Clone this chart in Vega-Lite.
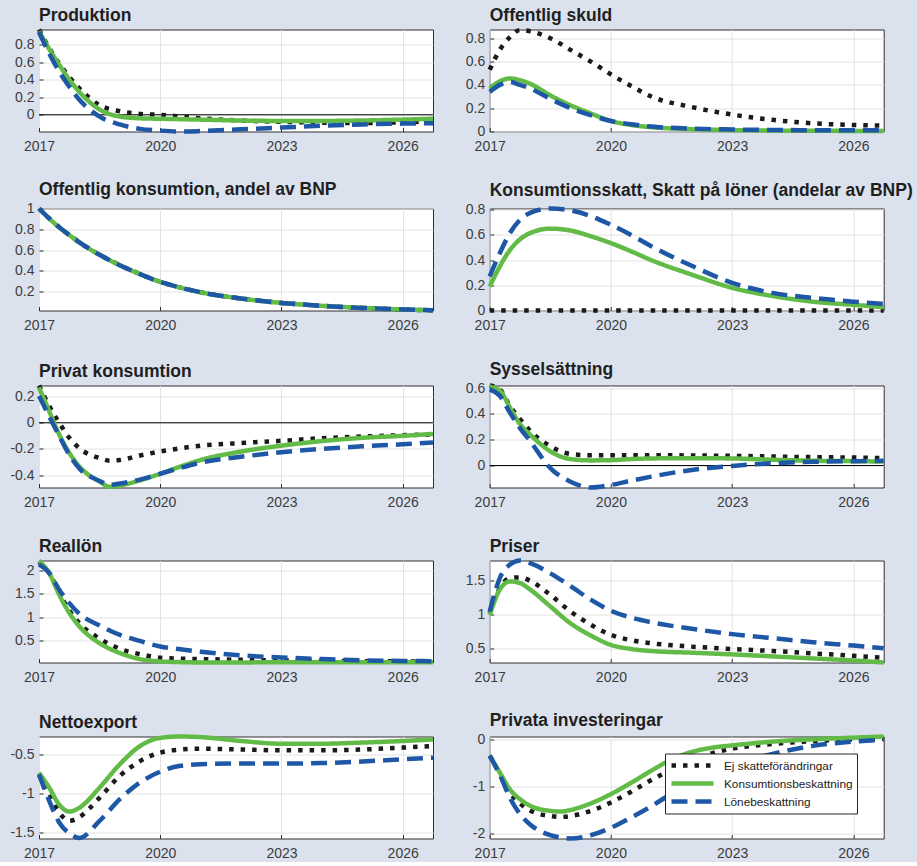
{
"$schema":"https://vega.github.io/schema/vega-lite/v6.json",
"background":"#dbe2ee",
"padding":{"left":4,"top":5.5,"right":6,"bottom":0},
"data":{"values":[
{"p":"A","s":"E","t":2017,"v":0.97},{"p":"A","s":"E","t":2017.25,"v":0.76},{"p":"A","s":"E","t":2017.5,"v":0.58},{"p":"A","s":"E","t":2017.75,"v":0.43},{"p":"A","s":"E","t":2018,"v":0.30},{"p":"A","s":"E","t":2018.5,"v":0.11},{"p":"A","s":"E","t":2019,"v":0.04},{"p":"A","s":"E","t":2019.5,"v":0.01},{"p":"A","s":"E","t":2020,"v":0.0},{"p":"A","s":"E","t":2020.5,"v":-0.02},{"p":"A","s":"E","t":2021,"v":-0.04},{"p":"A","s":"E","t":2022,"v":-0.065},{"p":"A","s":"E","t":2023,"v":-0.08},{"p":"A","s":"E","t":2024,"v":-0.09},{"p":"A","s":"E","t":2025,"v":-0.095},{"p":"A","s":"E","t":2026,"v":-0.085},{"p":"A","s":"E","t":2026.75,"v":-0.075},
{"p":"A","s":"K","t":2017,"v":0.95},{"p":"A","s":"K","t":2017.25,"v":0.75},{"p":"A","s":"K","t":2017.5,"v":0.57},{"p":"A","s":"K","t":2017.75,"v":0.40},{"p":"A","s":"K","t":2018,"v":0.26},{"p":"A","s":"K","t":2018.5,"v":0.06},{"p":"A","s":"K","t":2019,"v":-0.02},{"p":"A","s":"K","t":2019.5,"v":-0.04},{"p":"A","s":"K","t":2020,"v":-0.045},{"p":"A","s":"K","t":2020.5,"v":-0.05},{"p":"A","s":"K","t":2021,"v":-0.055},{"p":"A","s":"K","t":2022,"v":-0.065},{"p":"A","s":"K","t":2023,"v":-0.07},{"p":"A","s":"K","t":2024,"v":-0.07},{"p":"A","s":"K","t":2025,"v":-0.065},{"p":"A","s":"K","t":2026,"v":-0.055},{"p":"A","s":"K","t":2026.75,"v":-0.045},
{"p":"A","s":"L","t":2017,"v":0.94},{"p":"A","s":"L","t":2017.25,"v":0.70},{"p":"A","s":"L","t":2017.5,"v":0.49},{"p":"A","s":"L","t":2017.75,"v":0.32},{"p":"A","s":"L","t":2018,"v":0.17},{"p":"A","s":"L","t":2018.5,"v":-0.02},{"p":"A","s":"L","t":2019,"v":-0.11},{"p":"A","s":"L","t":2019.5,"v":-0.16},{"p":"A","s":"L","t":2020,"v":-0.18},{"p":"A","s":"L","t":2020.5,"v":-0.19},{"p":"A","s":"L","t":2021,"v":-0.185},{"p":"A","s":"L","t":2022,"v":-0.165},{"p":"A","s":"L","t":2023,"v":-0.145},{"p":"A","s":"L","t":2024,"v":-0.125},{"p":"A","s":"L","t":2025,"v":-0.11},{"p":"A","s":"L","t":2026,"v":-0.10},{"p":"A","s":"L","t":2026.75,"v":-0.095},
{"p":"B","s":"E","t":2017,"v":0.53},{"p":"B","s":"E","t":2017.25,"v":0.70},{"p":"B","s":"E","t":2017.5,"v":0.81},{"p":"B","s":"E","t":2017.75,"v":0.87},{"p":"B","s":"E","t":2018,"v":0.86},{"p":"B","s":"E","t":2018.5,"v":0.80},{"p":"B","s":"E","t":2019,"v":0.70},{"p":"B","s":"E","t":2019.5,"v":0.60},{"p":"B","s":"E","t":2020,"v":0.49},{"p":"B","s":"E","t":2020.5,"v":0.39},{"p":"B","s":"E","t":2021,"v":0.30},{"p":"B","s":"E","t":2022,"v":0.21},{"p":"B","s":"E","t":2023,"v":0.145},{"p":"B","s":"E","t":2024,"v":0.10},{"p":"B","s":"E","t":2025,"v":0.07},{"p":"B","s":"E","t":2026,"v":0.056},{"p":"B","s":"E","t":2026.75,"v":0.05},
{"p":"B","s":"K","t":2017,"v":0.37},{"p":"B","s":"K","t":2017.25,"v":0.43},{"p":"B","s":"K","t":2017.5,"v":0.455},{"p":"B","s":"K","t":2017.75,"v":0.44},{"p":"B","s":"K","t":2018,"v":0.41},{"p":"B","s":"K","t":2018.5,"v":0.31},{"p":"B","s":"K","t":2019,"v":0.225},{"p":"B","s":"K","t":2019.5,"v":0.155},{"p":"B","s":"K","t":2020,"v":0.09},{"p":"B","s":"K","t":2020.5,"v":0.056},{"p":"B","s":"K","t":2021,"v":0.037},{"p":"B","s":"K","t":2022,"v":0.02},{"p":"B","s":"K","t":2023,"v":0.012},{"p":"B","s":"K","t":2024,"v":0.008},{"p":"B","s":"K","t":2025,"v":0.006},{"p":"B","s":"K","t":2026,"v":0.005},{"p":"B","s":"K","t":2026.75,"v":0.004},
{"p":"B","s":"L","t":2017,"v":0.34},{"p":"B","s":"L","t":2017.25,"v":0.40},{"p":"B","s":"L","t":2017.5,"v":0.425},{"p":"B","s":"L","t":2017.75,"v":0.40},{"p":"B","s":"L","t":2018,"v":0.37},{"p":"B","s":"L","t":2018.5,"v":0.28},{"p":"B","s":"L","t":2019,"v":0.20},{"p":"B","s":"L","t":2019.5,"v":0.14},{"p":"B","s":"L","t":2020,"v":0.09},{"p":"B","s":"L","t":2020.5,"v":0.062},{"p":"B","s":"L","t":2021,"v":0.042},{"p":"B","s":"L","t":2022,"v":0.025},{"p":"B","s":"L","t":2023,"v":0.017},{"p":"B","s":"L","t":2024,"v":0.013},{"p":"B","s":"L","t":2025,"v":0.011},{"p":"B","s":"L","t":2026,"v":0.01},{"p":"B","s":"L","t":2026.75,"v":0.01},
{"p":"C","s":"E","t":2017,"v":1.0},{"p":"C","s":"E","t":2017.25,"v":0.905},{"p":"C","s":"E","t":2017.5,"v":0.82},{"p":"C","s":"E","t":2017.75,"v":0.745},{"p":"C","s":"E","t":2018,"v":0.675},{"p":"C","s":"E","t":2018.5,"v":0.555},{"p":"C","s":"E","t":2019,"v":0.455},{"p":"C","s":"E","t":2019.5,"v":0.37},{"p":"C","s":"E","t":2020,"v":0.295},{"p":"C","s":"E","t":2020.5,"v":0.24},{"p":"C","s":"E","t":2021,"v":0.195},{"p":"C","s":"E","t":2022,"v":0.135},{"p":"C","s":"E","t":2023,"v":0.093},{"p":"C","s":"E","t":2024,"v":0.065},{"p":"C","s":"E","t":2025,"v":0.045},{"p":"C","s":"E","t":2026,"v":0.03},{"p":"C","s":"E","t":2026.75,"v":0.022},
{"p":"C","s":"K","t":2017,"v":1.0},{"p":"C","s":"K","t":2017.25,"v":0.905},{"p":"C","s":"K","t":2017.5,"v":0.82},{"p":"C","s":"K","t":2017.75,"v":0.745},{"p":"C","s":"K","t":2018,"v":0.675},{"p":"C","s":"K","t":2018.5,"v":0.555},{"p":"C","s":"K","t":2019,"v":0.455},{"p":"C","s":"K","t":2019.5,"v":0.37},{"p":"C","s":"K","t":2020,"v":0.295},{"p":"C","s":"K","t":2020.5,"v":0.24},{"p":"C","s":"K","t":2021,"v":0.195},{"p":"C","s":"K","t":2022,"v":0.135},{"p":"C","s":"K","t":2023,"v":0.093},{"p":"C","s":"K","t":2024,"v":0.065},{"p":"C","s":"K","t":2025,"v":0.045},{"p":"C","s":"K","t":2026,"v":0.03},{"p":"C","s":"K","t":2026.75,"v":0.022},
{"p":"C","s":"L","t":2017,"v":1.0},{"p":"C","s":"L","t":2017.25,"v":0.905},{"p":"C","s":"L","t":2017.5,"v":0.82},{"p":"C","s":"L","t":2017.75,"v":0.745},{"p":"C","s":"L","t":2018,"v":0.675},{"p":"C","s":"L","t":2018.5,"v":0.555},{"p":"C","s":"L","t":2019,"v":0.455},{"p":"C","s":"L","t":2019.5,"v":0.37},{"p":"C","s":"L","t":2020,"v":0.295},{"p":"C","s":"L","t":2020.5,"v":0.24},{"p":"C","s":"L","t":2021,"v":0.195},{"p":"C","s":"L","t":2022,"v":0.135},{"p":"C","s":"L","t":2023,"v":0.093},{"p":"C","s":"L","t":2024,"v":0.065},{"p":"C","s":"L","t":2025,"v":0.045},{"p":"C","s":"L","t":2026,"v":0.03},{"p":"C","s":"L","t":2026.75,"v":0.022},
{"p":"D","s":"E","t":2017,"v":0},{"p":"D","s":"E","t":2018,"v":0},{"p":"D","s":"E","t":2019,"v":0},{"p":"D","s":"E","t":2020,"v":0},{"p":"D","s":"E","t":2021,"v":0},{"p":"D","s":"E","t":2022,"v":0},{"p":"D","s":"E","t":2023,"v":0},{"p":"D","s":"E","t":2024,"v":0},{"p":"D","s":"E","t":2025,"v":0},{"p":"D","s":"E","t":2026,"v":0},{"p":"D","s":"E","t":2026.75,"v":0},
{"p":"D","s":"K","t":2017,"v":0.19},{"p":"D","s":"K","t":2017.25,"v":0.35},{"p":"D","s":"K","t":2017.5,"v":0.48},{"p":"D","s":"K","t":2017.75,"v":0.565},{"p":"D","s":"K","t":2018,"v":0.615},{"p":"D","s":"K","t":2018.5,"v":0.65},{"p":"D","s":"K","t":2019,"v":0.635},{"p":"D","s":"K","t":2019.5,"v":0.59},{"p":"D","s":"K","t":2020,"v":0.535},{"p":"D","s":"K","t":2020.5,"v":0.47},{"p":"D","s":"K","t":2021,"v":0.40},{"p":"D","s":"K","t":2022,"v":0.285},{"p":"D","s":"K","t":2023,"v":0.18},{"p":"D","s":"K","t":2024,"v":0.115},{"p":"D","s":"K","t":2025,"v":0.07},{"p":"D","s":"K","t":2026,"v":0.045},{"p":"D","s":"K","t":2026.75,"v":0.027},
{"p":"D","s":"L","t":2017,"v":0.27},{"p":"D","s":"L","t":2017.25,"v":0.455},{"p":"D","s":"L","t":2017.5,"v":0.615},{"p":"D","s":"L","t":2017.75,"v":0.72},{"p":"D","s":"L","t":2018,"v":0.775},{"p":"D","s":"L","t":2018.5,"v":0.81},{"p":"D","s":"L","t":2019,"v":0.795},{"p":"D","s":"L","t":2019.5,"v":0.75},{"p":"D","s":"L","t":2020,"v":0.68},{"p":"D","s":"L","t":2020.5,"v":0.60},{"p":"D","s":"L","t":2021,"v":0.51},{"p":"D","s":"L","t":2022,"v":0.355},{"p":"D","s":"L","t":2023,"v":0.22},{"p":"D","s":"L","t":2024,"v":0.14},{"p":"D","s":"L","t":2025,"v":0.10},{"p":"D","s":"L","t":2026,"v":0.07},{"p":"D","s":"L","t":2026.75,"v":0.053},
{"p":"E","s":"E","t":2017,"v":0.285},{"p":"E","s":"E","t":2017.25,"v":0.13},{"p":"E","s":"E","t":2017.5,"v":0.0},{"p":"E","s":"E","t":2017.75,"v":-0.115},{"p":"E","s":"E","t":2018,"v":-0.195},{"p":"E","s":"E","t":2018.5,"v":-0.27},{"p":"E","s":"E","t":2018.75,"v":-0.29},{"p":"E","s":"E","t":2019,"v":-0.285},{"p":"E","s":"E","t":2019.5,"v":-0.25},{"p":"E","s":"E","t":2020,"v":-0.22},{"p":"E","s":"E","t":2020.5,"v":-0.195},{"p":"E","s":"E","t":2021,"v":-0.175},{"p":"E","s":"E","t":2022,"v":-0.155},{"p":"E","s":"E","t":2023,"v":-0.138},{"p":"E","s":"E","t":2024,"v":-0.118},{"p":"E","s":"E","t":2025,"v":-0.105},{"p":"E","s":"E","t":2026,"v":-0.095},{"p":"E","s":"E","t":2026.75,"v":-0.09},
{"p":"E","s":"K","t":2017,"v":0.27},{"p":"E","s":"K","t":2017.25,"v":0.09},{"p":"E","s":"K","t":2017.5,"v":-0.09},{"p":"E","s":"K","t":2017.75,"v":-0.23},{"p":"E","s":"K","t":2018,"v":-0.335},{"p":"E","s":"K","t":2018.5,"v":-0.45},{"p":"E","s":"K","t":2018.75,"v":-0.49},{"p":"E","s":"K","t":2019,"v":-0.48},{"p":"E","s":"K","t":2019.5,"v":-0.44},{"p":"E","s":"K","t":2020,"v":-0.39},{"p":"E","s":"K","t":2020.5,"v":-0.335},{"p":"E","s":"K","t":2021,"v":-0.285},{"p":"E","s":"K","t":2022,"v":-0.22},{"p":"E","s":"K","t":2023,"v":-0.175},{"p":"E","s":"K","t":2024,"v":-0.14},{"p":"E","s":"K","t":2025,"v":-0.115},{"p":"E","s":"K","t":2026,"v":-0.10},{"p":"E","s":"K","t":2026.75,"v":-0.085},
{"p":"E","s":"L","t":2017,"v":0.205},{"p":"E","s":"L","t":2017.25,"v":0.05},{"p":"E","s":"L","t":2017.5,"v":-0.10},{"p":"E","s":"L","t":2017.75,"v":-0.245},{"p":"E","s":"L","t":2018,"v":-0.35},{"p":"E","s":"L","t":2018.5,"v":-0.445},{"p":"E","s":"L","t":2018.75,"v":-0.475},{"p":"E","s":"L","t":2019,"v":-0.465},{"p":"E","s":"L","t":2019.5,"v":-0.435},{"p":"E","s":"L","t":2020,"v":-0.39},{"p":"E","s":"L","t":2020.5,"v":-0.345},{"p":"E","s":"L","t":2021,"v":-0.305},{"p":"E","s":"L","t":2022,"v":-0.26},{"p":"E","s":"L","t":2023,"v":-0.225},{"p":"E","s":"L","t":2024,"v":-0.20},{"p":"E","s":"L","t":2025,"v":-0.18},{"p":"E","s":"L","t":2026,"v":-0.165},{"p":"E","s":"L","t":2026.75,"v":-0.15},
{"p":"F","s":"E","t":2017,"v":0.62},{"p":"F","s":"E","t":2017.25,"v":0.59},{"p":"F","s":"E","t":2017.5,"v":0.46},{"p":"F","s":"E","t":2017.75,"v":0.36},{"p":"F","s":"E","t":2018,"v":0.27},{"p":"F","s":"E","t":2018.5,"v":0.15},{"p":"F","s":"E","t":2019,"v":0.09},{"p":"F","s":"E","t":2019.5,"v":0.08},{"p":"F","s":"E","t":2020,"v":0.08},{"p":"F","s":"E","t":2020.5,"v":0.08},{"p":"F","s":"E","t":2021,"v":0.08},{"p":"F","s":"E","t":2022,"v":0.078},{"p":"F","s":"E","t":2023,"v":0.075},{"p":"F","s":"E","t":2024,"v":0.07},{"p":"F","s":"E","t":2025,"v":0.065},{"p":"F","s":"E","t":2026,"v":0.062},{"p":"F","s":"E","t":2026.75,"v":0.057},
{"p":"F","s":"K","t":2017,"v":0.61},{"p":"F","s":"K","t":2017.25,"v":0.58},{"p":"F","s":"K","t":2017.5,"v":0.45},{"p":"F","s":"K","t":2017.75,"v":0.32},{"p":"F","s":"K","t":2018,"v":0.24},{"p":"F","s":"K","t":2018.5,"v":0.11},{"p":"F","s":"K","t":2019,"v":0.05},{"p":"F","s":"K","t":2019.5,"v":0.04},{"p":"F","s":"K","t":2020,"v":0.042},{"p":"F","s":"K","t":2020.5,"v":0.05},{"p":"F","s":"K","t":2021,"v":0.055},{"p":"F","s":"K","t":2022,"v":0.057},{"p":"F","s":"K","t":2023,"v":0.055},{"p":"F","s":"K","t":2024,"v":0.045},{"p":"F","s":"K","t":2025,"v":0.037},{"p":"F","s":"K","t":2026,"v":0.034},{"p":"F","s":"K","t":2026.75,"v":0.031},
{"p":"F","s":"L","t":2017,"v":0.59},{"p":"F","s":"L","t":2017.25,"v":0.54},{"p":"F","s":"L","t":2017.5,"v":0.41},{"p":"F","s":"L","t":2017.75,"v":0.29},{"p":"F","s":"L","t":2018,"v":0.19},{"p":"F","s":"L","t":2018.5,"v":-0.02},{"p":"F","s":"L","t":2019,"v":-0.125},{"p":"F","s":"L","t":2019.5,"v":-0.17},{"p":"F","s":"L","t":2020,"v":-0.15},{"p":"F","s":"L","t":2020.5,"v":-0.117},{"p":"F","s":"L","t":2021,"v":-0.086},{"p":"F","s":"L","t":2022,"v":-0.034},{"p":"F","s":"L","t":2023,"v":-0.003},{"p":"F","s":"L","t":2024,"v":0.018},{"p":"F","s":"L","t":2025,"v":0.029},{"p":"F","s":"L","t":2026,"v":0.034},{"p":"F","s":"L","t":2026.75,"v":0.037},
{"p":"G","s":"E","t":2017,"v":2.18},{"p":"G","s":"E","t":2017.25,"v":1.95},{"p":"G","s":"E","t":2017.5,"v":1.52},{"p":"G","s":"E","t":2017.75,"v":1.14},{"p":"G","s":"E","t":2018,"v":0.87},{"p":"G","s":"E","t":2018.5,"v":0.54},{"p":"G","s":"E","t":2019,"v":0.32},{"p":"G","s":"E","t":2019.5,"v":0.205},{"p":"G","s":"E","t":2020,"v":0.13},{"p":"G","s":"E","t":2020.5,"v":0.11},{"p":"G","s":"E","t":2021,"v":0.10},{"p":"G","s":"E","t":2022,"v":0.085},{"p":"G","s":"E","t":2023,"v":0.07},{"p":"G","s":"E","t":2024,"v":0.06},{"p":"G","s":"E","t":2025,"v":0.055},{"p":"G","s":"E","t":2026,"v":0.05},{"p":"G","s":"E","t":2026.75,"v":0.045},
{"p":"G","s":"K","t":2017,"v":2.21},{"p":"G","s":"K","t":2017.25,"v":1.95},{"p":"G","s":"K","t":2017.5,"v":1.48},{"p":"G","s":"K","t":2017.75,"v":1.09},{"p":"G","s":"K","t":2018,"v":0.80},{"p":"G","s":"K","t":2018.5,"v":0.44},{"p":"G","s":"K","t":2019,"v":0.23},{"p":"G","s":"K","t":2019.5,"v":0.10},{"p":"G","s":"K","t":2020,"v":0.05},{"p":"G","s":"K","t":2020.5,"v":0.035},{"p":"G","s":"K","t":2021,"v":0.028},{"p":"G","s":"K","t":2022,"v":0.028},{"p":"G","s":"K","t":2023,"v":0.035},{"p":"G","s":"K","t":2024,"v":0.035},{"p":"G","s":"K","t":2025,"v":0.03},{"p":"G","s":"K","t":2026,"v":0.03},{"p":"G","s":"K","t":2026.75,"v":0.03},
{"p":"G","s":"L","t":2017,"v":2.13},{"p":"G","s":"L","t":2017.25,"v":1.95},{"p":"G","s":"L","t":2017.5,"v":1.59},{"p":"G","s":"L","t":2017.75,"v":1.30},{"p":"G","s":"L","t":2018,"v":1.07},{"p":"G","s":"L","t":2018.5,"v":0.82},{"p":"G","s":"L","t":2019,"v":0.62},{"p":"G","s":"L","t":2019.5,"v":0.49},{"p":"G","s":"L","t":2020,"v":0.37},{"p":"G","s":"L","t":2020.5,"v":0.31},{"p":"G","s":"L","t":2021,"v":0.26},{"p":"G","s":"L","t":2022,"v":0.18},{"p":"G","s":"L","t":2023,"v":0.135},{"p":"G","s":"L","t":2024,"v":0.10},{"p":"G","s":"L","t":2025,"v":0.075},{"p":"G","s":"L","t":2026,"v":0.06},{"p":"G","s":"L","t":2026.75,"v":0.055},
{"p":"H","s":"E","t":2017,"v":1.02},{"p":"H","s":"E","t":2017.25,"v":1.39},{"p":"H","s":"E","t":2017.5,"v":1.54},{"p":"H","s":"E","t":2017.75,"v":1.55},{"p":"H","s":"E","t":2018,"v":1.50},{"p":"H","s":"E","t":2018.5,"v":1.29},{"p":"H","s":"E","t":2019,"v":1.045},{"p":"H","s":"E","t":2019.5,"v":0.85},{"p":"H","s":"E","t":2020,"v":0.70},{"p":"H","s":"E","t":2020.5,"v":0.62},{"p":"H","s":"E","t":2021,"v":0.575},{"p":"H","s":"E","t":2022,"v":0.525},{"p":"H","s":"E","t":2023,"v":0.49},{"p":"H","s":"E","t":2024,"v":0.46},{"p":"H","s":"E","t":2025,"v":0.425},{"p":"H","s":"E","t":2026,"v":0.39},{"p":"H","s":"E","t":2026.75,"v":0.36},
{"p":"H","s":"K","t":2017,"v":0.995},{"p":"H","s":"K","t":2017.25,"v":1.37},{"p":"H","s":"K","t":2017.5,"v":1.49},{"p":"H","s":"K","t":2017.75,"v":1.465},{"p":"H","s":"K","t":2018,"v":1.37},{"p":"H","s":"K","t":2018.5,"v":1.12},{"p":"H","s":"K","t":2019,"v":0.87},{"p":"H","s":"K","t":2019.5,"v":0.69},{"p":"H","s":"K","t":2020,"v":0.55},{"p":"H","s":"K","t":2020.5,"v":0.49},{"p":"H","s":"K","t":2021,"v":0.46},{"p":"H","s":"K","t":2022,"v":0.435},{"p":"H","s":"K","t":2023,"v":0.41},{"p":"H","s":"K","t":2024,"v":0.38},{"p":"H","s":"K","t":2025,"v":0.35},{"p":"H","s":"K","t":2026,"v":0.32},{"p":"H","s":"K","t":2026.75,"v":0.29},
{"p":"H","s":"L","t":2017,"v":1.045},{"p":"H","s":"L","t":2017.25,"v":1.54},{"p":"H","s":"L","t":2017.5,"v":1.74},{"p":"H","s":"L","t":2017.75,"v":1.80},{"p":"H","s":"L","t":2018,"v":1.76},{"p":"H","s":"L","t":2018.5,"v":1.61},{"p":"H","s":"L","t":2019,"v":1.42},{"p":"H","s":"L","t":2019.5,"v":1.22},{"p":"H","s":"L","t":2020,"v":1.055},{"p":"H","s":"L","t":2020.5,"v":0.955},{"p":"H","s":"L","t":2021,"v":0.885},{"p":"H","s":"L","t":2022,"v":0.79},{"p":"H","s":"L","t":2023,"v":0.71},{"p":"H","s":"L","t":2024,"v":0.65},{"p":"H","s":"L","t":2025,"v":0.59},{"p":"H","s":"L","t":2026,"v":0.54},{"p":"H","s":"L","t":2026.75,"v":0.50},
{"p":"I","s":"E","t":2017,"v":-0.75},{"p":"I","s":"E","t":2017.25,"v":-1.0},{"p":"I","s":"E","t":2017.5,"v":-1.24},{"p":"I","s":"E","t":2017.75,"v":-1.35},{"p":"I","s":"E","t":2018,"v":-1.30},{"p":"I","s":"E","t":2018.5,"v":-1.05},{"p":"I","s":"E","t":2019,"v":-0.77},{"p":"I","s":"E","t":2019.5,"v":-0.58},{"p":"I","s":"E","t":2020,"v":-0.47},{"p":"I","s":"E","t":2020.5,"v":-0.43},{"p":"I","s":"E","t":2021,"v":-0.42},{"p":"I","s":"E","t":2022,"v":-0.43},{"p":"I","s":"E","t":2023,"v":-0.44},{"p":"I","s":"E","t":2024,"v":-0.44},{"p":"I","s":"E","t":2025,"v":-0.43},{"p":"I","s":"E","t":2026,"v":-0.405},{"p":"I","s":"E","t":2026.75,"v":-0.385},
{"p":"I","s":"K","t":2017,"v":-0.73},{"p":"I","s":"K","t":2017.25,"v":-0.92},{"p":"I","s":"K","t":2017.5,"v":-1.14},{"p":"I","s":"K","t":2017.75,"v":-1.23},{"p":"I","s":"K","t":2018,"v":-1.18},{"p":"I","s":"K","t":2018.5,"v":-0.92},{"p":"I","s":"K","t":2019,"v":-0.62},{"p":"I","s":"K","t":2019.5,"v":-0.385},{"p":"I","s":"K","t":2020,"v":-0.28},{"p":"I","s":"K","t":2020.5,"v":-0.262},{"p":"I","s":"K","t":2021,"v":-0.27},{"p":"I","s":"K","t":2022,"v":-0.32},{"p":"I","s":"K","t":2023,"v":-0.355},{"p":"I","s":"K","t":2024,"v":-0.355},{"p":"I","s":"K","t":2025,"v":-0.34},{"p":"I","s":"K","t":2026,"v":-0.32},{"p":"I","s":"K","t":2026.75,"v":-0.30},
{"p":"I","s":"L","t":2017,"v":-0.75},{"p":"I","s":"L","t":2017.25,"v":-1.09},{"p":"I","s":"L","t":2017.5,"v":-1.37},{"p":"I","s":"L","t":2017.75,"v":-1.51},{"p":"I","s":"L","t":2018,"v":-1.57},{"p":"I","s":"L","t":2018.5,"v":-1.35},{"p":"I","s":"L","t":2019,"v":-1.07},{"p":"I","s":"L","t":2019.5,"v":-0.855},{"p":"I","s":"L","t":2020,"v":-0.715},{"p":"I","s":"L","t":2020.5,"v":-0.64},{"p":"I","s":"L","t":2021,"v":-0.62},{"p":"I","s":"L","t":2022,"v":-0.61},{"p":"I","s":"L","t":2023,"v":-0.61},{"p":"I","s":"L","t":2024,"v":-0.605},{"p":"I","s":"L","t":2025,"v":-0.585},{"p":"I","s":"L","t":2026,"v":-0.555},{"p":"I","s":"L","t":2026.75,"v":-0.535},
{"p":"J","s":"E","t":2017,"v":-0.34},{"p":"J","s":"E","t":2017.25,"v":-0.72},{"p":"J","s":"E","t":2017.5,"v":-1.13},{"p":"J","s":"E","t":2017.75,"v":-1.36},{"p":"J","s":"E","t":2018,"v":-1.51},{"p":"J","s":"E","t":2018.5,"v":-1.63},{"p":"J","s":"E","t":2018.75,"v":-1.65},{"p":"J","s":"E","t":2019,"v":-1.63},{"p":"J","s":"E","t":2019.5,"v":-1.52},{"p":"J","s":"E","t":2020,"v":-1.34},{"p":"J","s":"E","t":2020.5,"v":-1.11},{"p":"J","s":"E","t":2021,"v":-0.86},{"p":"J","s":"E","t":2021.5,"v":-0.64},{"p":"J","s":"E","t":2022,"v":-0.45},{"p":"J","s":"E","t":2022.5,"v":-0.29},{"p":"J","s":"E","t":2023,"v":-0.19},{"p":"J","s":"E","t":2024,"v":-0.09},{"p":"J","s":"E","t":2025,"v":-0.03},{"p":"J","s":"E","t":2026,"v":0.01},{"p":"J","s":"E","t":2026.75,"v":0.02},
{"p":"J","s":"K","t":2017,"v":-0.34},{"p":"J","s":"K","t":2017.25,"v":-0.70},{"p":"J","s":"K","t":2017.5,"v":-1.06},{"p":"J","s":"K","t":2017.75,"v":-1.27},{"p":"J","s":"K","t":2018,"v":-1.41},{"p":"J","s":"K","t":2018.5,"v":-1.52},{"p":"J","s":"K","t":2018.75,"v":-1.535},{"p":"J","s":"K","t":2019,"v":-1.50},{"p":"J","s":"K","t":2019.5,"v":-1.36},{"p":"J","s":"K","t":2020,"v":-1.16},{"p":"J","s":"K","t":2020.5,"v":-0.92},{"p":"J","s":"K","t":2021,"v":-0.66},{"p":"J","s":"K","t":2021.5,"v":-0.42},{"p":"J","s":"K","t":2022,"v":-0.26},{"p":"J","s":"K","t":2022.5,"v":-0.17},{"p":"J","s":"K","t":2023,"v":-0.12},{"p":"J","s":"K","t":2024,"v":-0.04},{"p":"J","s":"K","t":2025,"v":0.01},{"p":"J","s":"K","t":2026,"v":0.045},{"p":"J","s":"K","t":2026.75,"v":0.07},
{"p":"J","s":"L","t":2017,"v":-0.34},{"p":"J","s":"L","t":2017.25,"v":-0.75},{"p":"J","s":"L","t":2017.5,"v":-1.24},{"p":"J","s":"L","t":2017.75,"v":-1.59},{"p":"J","s":"L","t":2018,"v":-1.81},{"p":"J","s":"L","t":2018.5,"v":-2.04},{"p":"J","s":"L","t":2018.75,"v":-2.09},{"p":"J","s":"L","t":2019,"v":-2.11},{"p":"J","s":"L","t":2019.5,"v":-2.04},{"p":"J","s":"L","t":2020,"v":-1.88},{"p":"J","s":"L","t":2020.5,"v":-1.66},{"p":"J","s":"L","t":2021,"v":-1.42},{"p":"J","s":"L","t":2021.5,"v":-1.15},{"p":"J","s":"L","t":2022,"v":-0.90},{"p":"J","s":"L","t":2022.5,"v":-0.70},{"p":"J","s":"L","t":2023,"v":-0.54},{"p":"J","s":"L","t":2024,"v":-0.30},{"p":"J","s":"L","t":2025,"v":-0.13},{"p":"J","s":"L","t":2026,"v":-0.04},{"p":"J","s":"L","t":2026.75,"v":0.0}
]},
"columns":2,
"spacing":{"row":26,"column":18.7},
"resolve":{"scale":{"color":"shared","strokeDash":"shared"}},
"concat":[
{"title":"Produktion","width":394,"height":102,"layer":[
 {"data":{"values":[{"v":0}]},"mark":{"type":"rule","color":"#000000","strokeWidth":1},"encoding":{"y":{"field":"v","type":"quantitative","axis":{"values":[0,0.2,0.4,0.6,0.8],"format":"~g","title":null}}}},
 {"transform":[{"filter":"datum.p=='A'"}],"mark":"line","encoding":{
  "x":{"field":"t","type":"quantitative","scale":{"domain":[2017,2026.75],"nice":false,"zero":false},"axis":{"values":[2017,2020,2023,2026],"format":"d","title":null}},
  "y":{"field":"v","type":"quantitative","scale":{"domain":[-0.19,0.97],"nice":false,"zero":false},"axis":{"values":[0,0.2,0.4,0.6,0.8],"format":"~g","title":null}},
  "color":{"field":"s","type":"nominal","title":null,"scale":{"domain":["E","K","L"],"range":["#1a1a1a","#62bb46","#1e57a5"]},"legend":{"labelExpr":"datum.label=='E'?'Ej skatteförändringar':datum.label=='K'?'Konsumtionsbeskattning':'Lönebeskattning'"}},
  "strokeDash":{"field":"s","type":"nominal","title":null,"scale":{"domain":["E","K","L"],"range":[[4.5,7],[1,0],[16,8]]},"legend":{"labelExpr":"datum.label=='E'?'Ej skatteförändringar':datum.label=='K'?'Konsumtionsbeskattning':'Lönebeskattning'"}}}}]},
{"title":"Offentlig skuld","width":394,"height":102,"layer":[
 {"transform":[{"filter":"datum.p=='B'"}],"mark":"line","encoding":{
  "x":{"field":"t","type":"quantitative","scale":{"domain":[2017,2026.75],"nice":false,"zero":false},"axis":{"values":[2017,2020,2023,2026],"format":"d","title":null}},
  "y":{"field":"v","type":"quantitative","scale":{"domain":[0,0.875],"nice":false,"zero":false},"axis":{"values":[0,0.2,0.4,0.6,0.8],"format":"~g","title":null}},
  "color":{"field":"s","type":"nominal","title":null,"scale":{"domain":["E","K","L"],"range":["#1a1a1a","#62bb46","#1e57a5"]}},
  "strokeDash":{"field":"s","type":"nominal","title":null,"scale":{"domain":["E","K","L"],"range":[[4.5,7],[1,0],[16,8]]}}}}]},
{"title":"Offentlig konsumtion, andel av BNP","width":394,"height":102,"layer":[
 {"transform":[{"filter":"datum.p=='C'"}],"mark":"line","encoding":{
  "x":{"field":"t","type":"quantitative","scale":{"domain":[2017,2026.75],"nice":false,"zero":false},"axis":{"values":[2017,2020,2023,2026],"format":"d","title":null}},
  "y":{"field":"v","type":"quantitative","scale":{"domain":[0.02,1.0],"nice":false,"zero":false},"axis":{"values":[0.2,0.4,0.6,0.8,1],"format":"~g","title":null}},
  "color":{"field":"s","type":"nominal","title":null,"scale":{"domain":["E","K","L"],"range":["#1a1a1a","#62bb46","#1e57a5"]}},
  "strokeDash":{"field":"s","type":"nominal","title":null,"scale":{"domain":["E","K","L"],"range":[[4.5,7],[1,0],[16,8]]}}}}]},
{"title":"Konsumtionsskatt, Skatt på löner (andelar av BNP)","width":394,"height":102,"layer":[
 {"transform":[{"filter":"datum.p=='D'"}],"mark":"line","encoding":{
  "x":{"field":"t","type":"quantitative","scale":{"domain":[2017,2026.75],"nice":false,"zero":false},"axis":{"values":[2017,2020,2023,2026],"format":"d","title":null}},
  "y":{"field":"v","type":"quantitative","scale":{"domain":[0,0.81],"nice":false,"zero":false},"axis":{"values":[0,0.2,0.4,0.6,0.8],"format":"~g","title":null}},
  "color":{"field":"s","type":"nominal","title":null,"scale":{"domain":["E","K","L"],"range":["#1a1a1a","#62bb46","#1e57a5"]}},
  "strokeDash":{"field":"s","type":"nominal","title":null,"scale":{"domain":["E","K","L"],"range":[[4.5,7],[1,0],[16,8]]}}}}]},
{"title":"Privat konsumtion","width":394,"height":102,"layer":[
 {"data":{"values":[{"v":0}]},"mark":{"type":"rule","color":"#000000","strokeWidth":1},"encoding":{"y":{"field":"v","type":"quantitative","axis":{"values":[-0.4,-0.2,0,0.2],"format":"~g","title":null}}}},
 {"transform":[{"filter":"datum.p=='E'"}],"mark":"line","encoding":{
  "x":{"field":"t","type":"quantitative","scale":{"domain":[2017,2026.75],"nice":false,"zero":false},"axis":{"values":[2017,2020,2023,2026],"format":"d","title":null}},
  "y":{"field":"v","type":"quantitative","scale":{"domain":[-0.495,0.285],"nice":false,"zero":false},"axis":{"values":[-0.4,-0.2,0,0.2],"format":"~g","title":null}},
  "color":{"field":"s","type":"nominal","title":null,"scale":{"domain":["E","K","L"],"range":["#1a1a1a","#62bb46","#1e57a5"]}},
  "strokeDash":{"field":"s","type":"nominal","title":null,"scale":{"domain":["E","K","L"],"range":[[4.5,7],[1,0],[16,8]]}}}}]},
{"title":"Sysselsättning","width":394,"height":102,"layer":[
 {"data":{"values":[{"v":0}]},"mark":{"type":"rule","color":"#000000","strokeWidth":1},"encoding":{"y":{"field":"v","type":"quantitative","axis":{"values":[0,0.2,0.4,0.6],"format":"~g","title":null}}}},
 {"transform":[{"filter":"datum.p=='F'"}],"mark":"line","encoding":{
  "x":{"field":"t","type":"quantitative","scale":{"domain":[2017,2026.75],"nice":false,"zero":false},"axis":{"values":[2017,2020,2023,2026],"format":"d","title":null}},
  "y":{"field":"v","type":"quantitative","scale":{"domain":[-0.17,0.62],"nice":false,"zero":false},"axis":{"values":[0,0.2,0.4,0.6],"format":"~g","title":null}},
  "color":{"field":"s","type":"nominal","title":null,"scale":{"domain":["E","K","L"],"range":["#1a1a1a","#62bb46","#1e57a5"]}},
  "strokeDash":{"field":"s","type":"nominal","title":null,"scale":{"domain":["E","K","L"],"range":[[4.5,7],[1,0],[16,8]]}}}}]},
{"title":"Reallön","width":394,"height":102,"layer":[
 {"transform":[{"filter":"datum.p=='G'"}],"mark":"line","encoding":{
  "x":{"field":"t","type":"quantitative","scale":{"domain":[2017,2026.75],"nice":false,"zero":false},"axis":{"values":[2017,2020,2023,2026],"format":"d","title":null}},
  "y":{"field":"v","type":"quantitative","scale":{"domain":[0.027,2.215],"nice":false,"zero":false},"axis":{"values":[0.5,1,1.5,2],"format":"~g","title":null}},
  "color":{"field":"s","type":"nominal","title":null,"scale":{"domain":["E","K","L"],"range":["#1a1a1a","#62bb46","#1e57a5"]}},
  "strokeDash":{"field":"s","type":"nominal","title":null,"scale":{"domain":["E","K","L"],"range":[[4.5,7],[1,0],[16,8]]}}}}]},
{"title":"Priser","width":394,"height":102,"layer":[
 {"transform":[{"filter":"datum.p=='H'"}],"mark":"line","encoding":{
  "x":{"field":"t","type":"quantitative","scale":{"domain":[2017,2026.75],"nice":false,"zero":false},"axis":{"values":[2017,2020,2023,2026],"format":"d","title":null}},
  "y":{"field":"v","type":"quantitative","scale":{"domain":[0.29,1.80],"nice":false,"zero":false},"axis":{"values":[0.5,1,1.5],"format":"~g","title":null}},
  "color":{"field":"s","type":"nominal","title":null,"scale":{"domain":["E","K","L"],"range":["#1a1a1a","#62bb46","#1e57a5"]}},
  "strokeDash":{"field":"s","type":"nominal","title":null,"scale":{"domain":["E","K","L"],"range":[[4.5,7],[1,0],[16,8]]}}}}]},
{"title":"Nettoexport","width":394,"height":102,"layer":[
 {"transform":[{"filter":"datum.p=='I'"}],"mark":"line","encoding":{
  "x":{"field":"t","type":"quantitative","scale":{"domain":[2017,2026.75],"nice":false,"zero":false},"axis":{"values":[2017,2020,2023,2026],"format":"d","title":null}},
  "y":{"field":"v","type":"quantitative","scale":{"domain":[-1.577,-0.262],"nice":false,"zero":false},"axis":{"values":[-1.5,-1,-0.5],"format":"~g","title":null}},
  "color":{"field":"s","type":"nominal","title":null,"scale":{"domain":["E","K","L"],"range":["#1a1a1a","#62bb46","#1e57a5"]}},
  "strokeDash":{"field":"s","type":"nominal","title":null,"scale":{"domain":["E","K","L"],"range":[[4.5,7],[1,0],[16,8]]}}}}]},
{"title":"Privata investeringar","width":394,"height":102,"layer":[
 {"transform":[{"filter":"datum.p=='J'"}],"mark":"line","encoding":{
  "x":{"field":"t","type":"quantitative","scale":{"domain":[2017,2026.75],"nice":false,"zero":false},"axis":{"values":[2017,2020,2023,2026],"format":"d","title":null}},
  "y":{"field":"v","type":"quantitative","scale":{"domain":[-2.11,0.07],"nice":false,"zero":false},"axis":{"values":[-2,-1,0],"format":"~g","title":null}},
  "color":{"field":"s","type":"nominal","title":null,"scale":{"domain":["E","K","L"],"range":["#1a1a1a","#62bb46","#1e57a5"]}},
  "strokeDash":{"field":"s","type":"nominal","title":null,"scale":{"domain":["E","K","L"],"range":[[4.5,7],[1,0],[16,8]]}}}}]}
],
"config":{
 "locale":{"number":{"decimal":".","thousands":",","grouping":[3],"currency":["",""],"minus":"-"}},
 "view":{"stroke":"#2e2e2e","strokeWidth":1,"fill":"#ffffff"},
 "line":{"strokeWidth":4.5,"interpolate":"monotone","strokeCap":"butt","strokeJoin":"round"},
 "title":{"font":"Liberation Sans","fontSize":17.5,"fontWeight":"bold","color":"#1f1f1f","anchor":"start","frame":"group","offset":3},
 "axis":{"labelFont":"Liberation Sans","labelFontSize":14,"labelColor":"#3c3c3c","tickSize":-4,"tickColor":"#2e2e2e","domain":false,"gridColor":"#e2e2e2","gridWidth":1,"labelFlush":false,"labelOverlap":false},
 "axisX":{"labelPadding":12},
 "axisY":{"labelPadding":9,"minExtent":34,"maxExtent":34},
 "legend":{"orient":"none","legendX":626,"legendY":724,"fillColor":"#ffffff","strokeColor":"#262626","padding":4,"symbolType":"stroke","symbolSize":1764,"symbolStrokeWidth":4.5,"labelFont":"Liberation Sans","labelFontSize":11.8,"labelColor":"#1a1a1a","clipHeight":16,"rowPadding":2,"labelOffset":8}
}
}
